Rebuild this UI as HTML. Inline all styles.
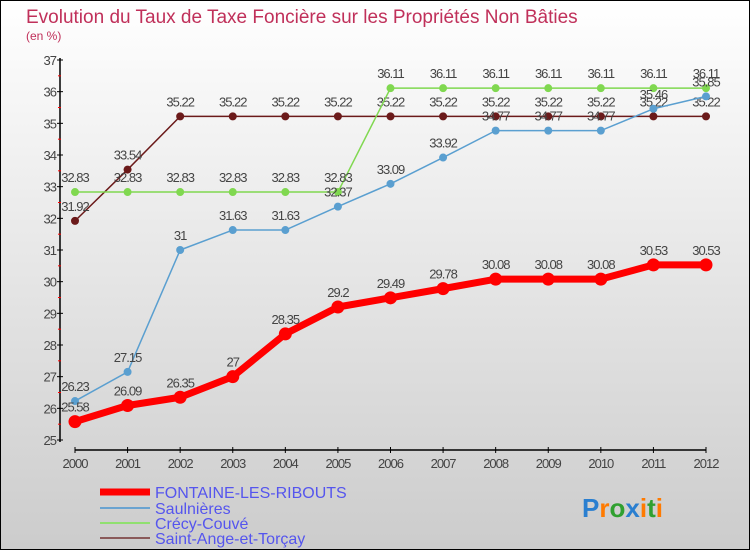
<!DOCTYPE html>
<html><head><meta charset="utf-8"><style>
body{margin:0;padding:0}
#wrap{width:750px;height:550px;position:relative;overflow:hidden;font-family:"Liberation Sans",sans-serif}
</style></head><body>
<div id="wrap">
<svg id="svg" width="750" height="550" xmlns="http://www.w3.org/2000/svg">
<defs><linearGradient id="bg" x1="0" y1="0" x2="0" y2="1"><stop offset="0" stop-color="#ffffff"/><stop offset="1" stop-color="#cccccc"/></linearGradient></defs>
<rect x="0.5" y="0.5" width="749" height="549" fill="url(#bg)" stroke="#000"/>
<text x="26" y="23" font-size="19" fill="#c0305a">Evolution du Taux de Taxe Foncière sur les Propriétés Non Bâties</text>
<text x="26" y="40" font-size="12" fill="#c0305a">(en %)</text>
<g id="axes"></g><g id="series"></g>
<g>
<line x1="100" y1="492" x2="150" y2="492" stroke="#ff0000" stroke-width="7"/>
<text x="155" y="498" font-size="16" fill="#5555ee">FONTAINE-LES-RIBOUTS</text>
<line x1="100" y1="508" x2="150" y2="508" stroke="#6aa3d0" stroke-width="2"/>
<text x="155" y="514" font-size="16" fill="#5555ee">Saulnières</text>
<line x1="100" y1="523" x2="150" y2="523" stroke="#90e070" stroke-width="2"/>
<text x="155" y="529" font-size="16" fill="#5555ee">Crécy-Couvé</text>
<line x1="100" y1="538" x2="150" y2="538" stroke="#8a5a5a" stroke-width="2"/>
<text x="155" y="544" font-size="16" fill="#5555ee">Saint-Ange-et-Torçay</text>
</g>
<text x="582" y="517" font-size="26" font-weight="bold"><tspan fill="#2a7fd0">P</tspan><tspan fill="#ff7a00">r</tspan><tspan fill="#30a030">o</tspan><tspan fill="#2a7fd0">x</tspan><tspan fill="#ff7a00">i</tspan><tspan fill="#30a030">t</tspan><tspan fill="#ff7a00">i</tspan></text>
</svg></div>
<script>
const years=[2000,2001,2002,2003,2004,2005,2006,2007,2008,2009,2010,2011,2012];
const yTicks=[25,26,27,28,29,30,31,32,33,34,35,36,37];
const fontaine=[25.58,26.09,26.35,27,28.35,29.2,29.49,29.78,30.08,30.08,30.08,30.53,30.53];
const saulnieres=[26.23,27.15,31,31.63,31.63,32.37,33.09,33.92,34.77,34.77,34.77,35.46,35.85];
const crecy=[32.83,32.83,32.83,32.83,32.83,32.83,36.11,36.11,36.11,36.11,36.11,36.11,36.11];
const saintAnge=[31.92,33.54,35.22,35.22,35.22,35.22,35.22,35.22,35.22,35.22,35.22,35.22,35.22];
const NS='http://www.w3.org/2000/svg';
const X=i=>75+i*(706-75)/(years.length-1);
const Y=v=>440-(v-25)*(380/12);
function mk(t,a,p){const e=document.createElementNS(NS,t);for(const k in a)e.setAttribute(k,a[k]);p.appendChild(e);return e;}
const ax=document.getElementById('axes');
let e=mk('line',{x1:60,y1:58,x2:60,y2:442,stroke:'#000','stroke-width':1.5},ax);


e=mk('line',{x1:75,y1:450,x2:706,y2:450,stroke:'#000','stroke-width':1.5},ax);


yTicks.forEach((v,i)=>{
 mk('line',{x1:57,x2:63,y1:Y(v),y2:Y(v),stroke:'#000'},ax);
 if(i<yTicks.length-1)mk('line',{x1:58,x2:61,y1:Y(v+0.5),y2:Y(v+0.5),stroke:'#ff0000'},ax);
 const t=mk('text',{x:56,y:Y(v)+5,'font-size':13,fill:'#444','text-anchor':'end','letter-spacing':'-1'},ax);
 t.textContent=v;
 
 
});
years.forEach((y,i)=>{
 mk('line',{x1:X(i),x2:X(i),y1:447,y2:453,stroke:'#000'},ax);
 const t=mk('text',{x:X(i),y:468,'font-size':13,fill:'#444','text-anchor':'middle','letter-spacing':'-1'},ax);
 t.textContent=y;
 
 
});
const sg=document.getElementById('series');
function series(data,color,w,r,name,fs){
 const g=mk('g',{},sg);
 
 
 mk('polyline',{points:data.map((v,i)=>X(i)+','+Y(v)).join(' '),fill:'none',stroke:color,'stroke-width':w,'stroke-linejoin':'round'},g);
 data.forEach((v,i)=>{
  const c=mk('circle',{cx:X(i),cy:Y(v),r:r,fill:color},g);
  
  
  const t=mk('text',{x:X(i),y:Y(v)-10,'font-size':fs,fill:'#444','text-anchor':'middle','letter-spacing':'-1'},g);
  t.textContent=String(v);
  
  
 });
}
series(saintAnge,'#6b1a1a',1.5,4,'series-saint-ange',13);
series(crecy,'#80d850',1.5,4,'series-crecy',13);
series(saulnieres,'#5a9fd0',1.5,4,'series-saulnieres',13);
series(fontaine,'#ff0000',7,6.5,'series-fontaine',13);
</script>
</body></html>
